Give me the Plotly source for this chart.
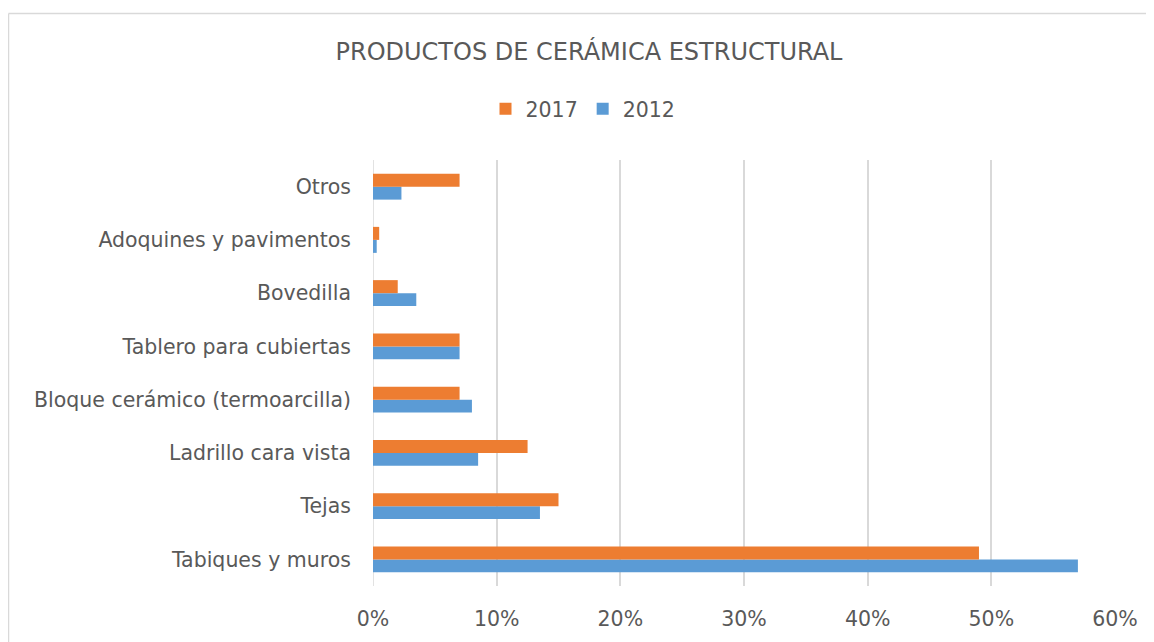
import plotly.graph_objects as go

categories = ["Tabiques y muros", "Tejas", "Ladrillo cara vista",
              "Bloque cerámico (termoarcilla)", "Tablero para cubiertas",
              "Bovedilla", "Adoquines y pavimentos", "Otros"]
values_2017 = [0.490, 0.150, 0.125, 0.070, 0.070, 0.020, 0.005, 0.070]
values_2012 = [0.570, 0.135, 0.085, 0.080, 0.070, 0.035, 0.003, 0.023]

FONT = "DejaVu Sans"
TXT = "#595959"
GRID = "#d9d9d9"

fig = go.Figure()
fig.add_trace(go.Bar(y=categories, x=values_2012, name="2012", orientation="h",
                     marker=dict(color="#5B9BD5", line=dict(width=0))))
fig.add_trace(go.Bar(y=categories, x=values_2017, name="2017", orientation="h",
                     marker=dict(color="#ED7D31", line=dict(width=0))))

# page body has an 8px margin; work in figure coordinates (screen - 8)
OFF = 8
W, H = 1154 - OFF, 642 - OFF
L, R, T, B = 373 - OFF, 1115 - OFF, 160 - OFF, 586 - OFF
FS = 20.5

fig.update_layout(
    width=W, height=H,
    margin=dict(l=L, r=W - R, t=T, b=H - B, pad=0),
    paper_bgcolor="white", plot_bgcolor="white",
    barmode="group", bargap=0.512, bargroupgap=0,
    font=dict(family=FONT, color=TXT, size=FS),
    title=dict(text="PRODUCTOS DE CERÁMICA ESTRUCTURAL",
               x=(589 - OFF) / W, xanchor="center",
               y=1 - (52 - OFF) / H, yanchor="middle",
               font=dict(family=FONT, size=24, color=TXT)),
    legend=dict(orientation="h", traceorder="reversed",
                x=(583 - 373) / (R - L), xanchor="center",
                y=1 + (160 - 109) / (B - T), yanchor="middle",
                font=dict(family=FONT, size=FS, color=TXT),
                itemwidth=30, bgcolor="rgba(0,0,0,0)"),
    xaxis=dict(range=[0, 0.6], dtick=0.1, tickformat=".0%",
               showgrid=True, gridcolor=GRID, gridwidth=1.5,
               zeroline=False, showline=False, ticks="",
               ticklabelstandoff=18,
               tickfont=dict(family=FONT, size=FS, color=TXT)),
    yaxis=dict(showgrid=False, zeroline=False, showline=False, ticks="",
               ticklabelstandoff=21,
               tickfont=dict(family=FONT, size=FS, color=TXT)),
    showlegend=True,
)

# left axis line at 0% (same grey as grid)
fig.add_shape(type="line", xref="x", yref="paper", x0=0, x1=0, y0=0, y1=1,
              line=dict(color=GRID, width=1.5), layer="below")

# chart area border (Excel-style), extends past right/bottom of image
bx = (8.5 - 373) / (R - L)
by = 1 + (160 - 13.5) / (B - T)
fig.add_shape(type="line", xref="paper", yref="paper",
              x0=bx, x1=(1170 - 373) / (R - L), y0=by, y1=by,
              line=dict(color=GRID, width=1.5))
fig.add_shape(type="line", xref="paper", yref="paper",
              x0=bx, x1=bx, y0=by, y1=(586 - 660) / (B - T),
              line=dict(color=GRID, width=1.5))

fig.write_html("out.html")
